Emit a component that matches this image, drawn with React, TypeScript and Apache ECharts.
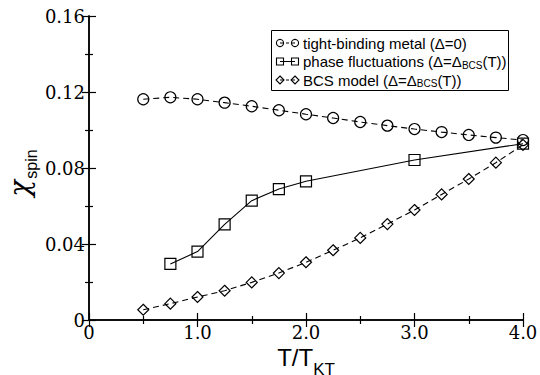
import React, { useEffect, useRef } from "react";
import * as echarts from "echarts";

const xTight = [0.5, 0.75, 1.0, 1.25, 1.5, 1.75, 2.0, 2.25, 2.5, 2.75, 3.0, 3.25, 3.5, 3.75, 4.0];
const yTight = [0.1162, 0.1172, 0.1162, 0.1144, 0.1125, 0.1104, 0.1083, 0.1063, 0.1042, 0.1023, 0.1005, 0.0989, 0.0974, 0.096, 0.0947];

const xPhase = [0.75, 1.0, 1.25, 1.5, 1.75, 2.0, 3.0, 4.0];
const yPhase = [0.0295, 0.036, 0.0503, 0.0628, 0.0689, 0.073, 0.0842, 0.0928];

const xBCS = [0.5, 0.75, 1.0, 1.25, 1.5, 1.75, 2.0, 2.25, 2.5, 2.75, 3.0, 3.25, 3.5, 3.75, 4.0];
const yBCS = [0.0054, 0.0086, 0.0121, 0.0154, 0.0198, 0.0247, 0.0304, 0.0367, 0.0432, 0.0505, 0.0579, 0.0661, 0.0742, 0.0828, 0.0922];

const xTickLabels: Record<string, string> = { "0": "0", "1": "1.0", "2": "2.0", "3": "3.0", "4": "4.0" };
const yTickLabels: Record<string, string> = { "0": "0", "0.04": "0.04", "0.08": "0.08", "0.12": "0.12", "0.16": "0.16" };

const legendNames = [
  "tight-binding metal (Δ=0)",
  "phase fluctuations (Δ=Δ{sub|BCS}(T))",
  "BCS model (Δ=Δ{sub|BCS}(T))",
];

const yAxisTitle = "{chi|χ}{sub|spin}";
const xAxisTitle = "{m|T/T}{sub|KT}";

const SERIF = "DejaVu Serif";
const SANS = "Liberation Sans";

const zip = (xs: number[], ys: number[]) => xs.map((x, i) => [x, ys[i]]);

export default function App() {
  const ref = useRef<HTMLDivElement>(null);
  useEffect(() => {
    document.body.style.margin = "0";
    if (!ref.current) return;
    const chart = echarts.init(ref.current, null, { renderer: "svg" });
    const axisLine = { show: true, lineStyle: { color: "#000", width: 1.5 } };
    const tick = { show: true, inside: true, length: 7, lineStyle: { color: "#000", width: 1.2 } };
    const minor = { show: true, splitNumber: 2, length: 4, lineStyle: { color: "#000", width: 1.2 } };
    const legendX = 280;
    const rows = [43, 61.5, 80];
    const mkSym = (kind: string, cx: number, cy: number) => {
      const st = { fill: "none", stroke: "#000", lineWidth: 1.1 };
      if (kind === "circle") return { type: "circle", shape: { cx, cy, r: 3.6 }, style: st };
      if (kind === "rect") return { type: "rect", shape: { x: cx - 3.5, y: cy - 3.5, width: 7, height: 7 }, style: st };
      return { type: "polygon", shape: { points: [[cx, cy - 4], [cx + 4, cy], [cx, cy + 4], [cx - 4, cy]] }, style: st };
    };
    const kinds = ["circle", "rect", "diamond"];
    const graphics: any[] = [
      { type: "rect", shape: { x: 271.5, y: 30.5, width: 237, height: 60 }, style: { fill: "#fff", stroke: "#000", lineWidth: 1 }, z: 10 },
    ];
    rows.forEach((y, i) => {
      graphics.push({
        type: "line",
        shape: { x1: legendX, y1: y, x2: legendX + 15, y2: y },
        style: { stroke: "#000", lineWidth: 1, lineDash: i === 1 ? null : [3, 3] },
        z: 11,
      });
      graphics.push({ ...mkSym(kinds[i], legendX, y), z: 12 });
      graphics.push({ ...mkSym(kinds[i], legendX + 15, y), z: 12 });
      graphics.push({
        type: "text",
        x: 303,
        y,
        style: {
          text: legendNames[i],
          fontFamily: SANS,
          fontSize: 15,
          fill: "#000",
          verticalAlign: "middle",
          rich: { sub: { fontSize: 10, fontFamily: SANS, verticalAlign: "bottom", padding: [7, 0, 0, 0] } },
        },
        z: 12,
      });
    });
    graphics.push({
      type: "text",
      x: 22,
      y: 173,
      rotation: Math.PI / 2,
      style: {
        text: yAxisTitle,
        align: "center",
        verticalAlign: "middle",
        fill: "#000",
        rich: {
          chi: { fontFamily: SERIF, fontSize: 28, fontStyle: "italic", verticalAlign: "top", fill: "#000" },
          sub: { fontFamily: SANS, fontSize: 16, verticalAlign: "top", padding: [18, 0, 0, 1], fill: "#000" },
        },
      },
      z: 12,
    });

    chart.setOption({
      animation: false,
      backgroundColor: "#fff",
      grid: { left: 89, right: 17, top: 16, bottom: 55, containLabel: false, outerBoundsMode: "none" },
      xAxis: [
        {
          type: "value",
          min: 0,
          max: 4,
          interval: 1,
          position: "bottom",
          axisLine,
          axisTick: tick,
          minorTick: minor,
          splitLine: { show: false },
          axisLabel: {
            fontFamily: SERIF,
            fontSize: 18,
            color: "#000",
            margin: 3,
            formatter: (v: number) => xTickLabels[String(v)] ?? "",
          },
          name: xAxisTitle,
          nameLocation: "middle",
          nameGap: 16,
          nameTextStyle: {
            color: "#000",
            rich: {
              m: { fontFamily: SANS, fontSize: 24, verticalAlign: "top" },
              sub: { fontFamily: SANS, fontSize: 17, verticalAlign: "top", padding: [15, 0, 0, 0] },
            },
          },
        },
        {
          type: "value",
          min: 0,
          max: 4,
          interval: 1,
          position: "top",
          axisLine,
          axisTick: tick,
          minorTick: minor,
          splitLine: { show: false },
          axisLabel: { show: false },
        },
      ],
      yAxis: [
        {
          type: "value",
          min: 0,
          max: 0.16,
          interval: 0.04,
          position: "left",
          axisLine,
          axisTick: tick,
          minorTick: minor,
          splitLine: { show: false },
          axisLabel: {
            fontFamily: SERIF,
            fontSize: 18,
            color: "#000",
            margin: 4,
            formatter: (v: number) => yTickLabels[String(Math.round(v * 100) / 100)] ?? "",
          },
        },
        {
          type: "value",
          min: 0,
          max: 0.16,
          interval: 0.04,
          position: "right",
          axisLine,
          axisTick: tick,
          minorTick: minor,
          splitLine: { show: false },
          axisLabel: { show: false },
        },
      ],
      series: [
        {
          type: "line",
          name: "tight",
          data: zip(xTight, yTight),
          symbol: "circle",
          symbolSize: 11,
          itemStyle: { color: "rgba(0,0,0,0)", borderColor: "#000", borderWidth: 1.2 },
          lineStyle: { color: "#000", width: 1.1, type: [6, 4] },
        },
        {
          type: "line",
          name: "phase",
          data: zip(xPhase, yPhase),
          symbol: "rect",
          symbolSize: 11,
          itemStyle: { color: "rgba(0,0,0,0)", borderColor: "#000", borderWidth: 1.2 },
          lineStyle: { color: "#000", width: 1.1, type: "solid" },
        },
        {
          type: "line",
          name: "bcs",
          data: zip(xBCS, yBCS),
          symbol: "diamond",
          symbolSize: 11,
          itemStyle: { color: "rgba(0,0,0,0)", borderColor: "#000", borderWidth: 1.2 },
          lineStyle: { color: "#000", width: 1.1, type: [6, 4] },
        },
      ],
      graphic: graphics,
    });
    return () => chart.dispose();
  }, []);
  return <div ref={ref} style={{ width: 540, height: 375 }} />;
}
